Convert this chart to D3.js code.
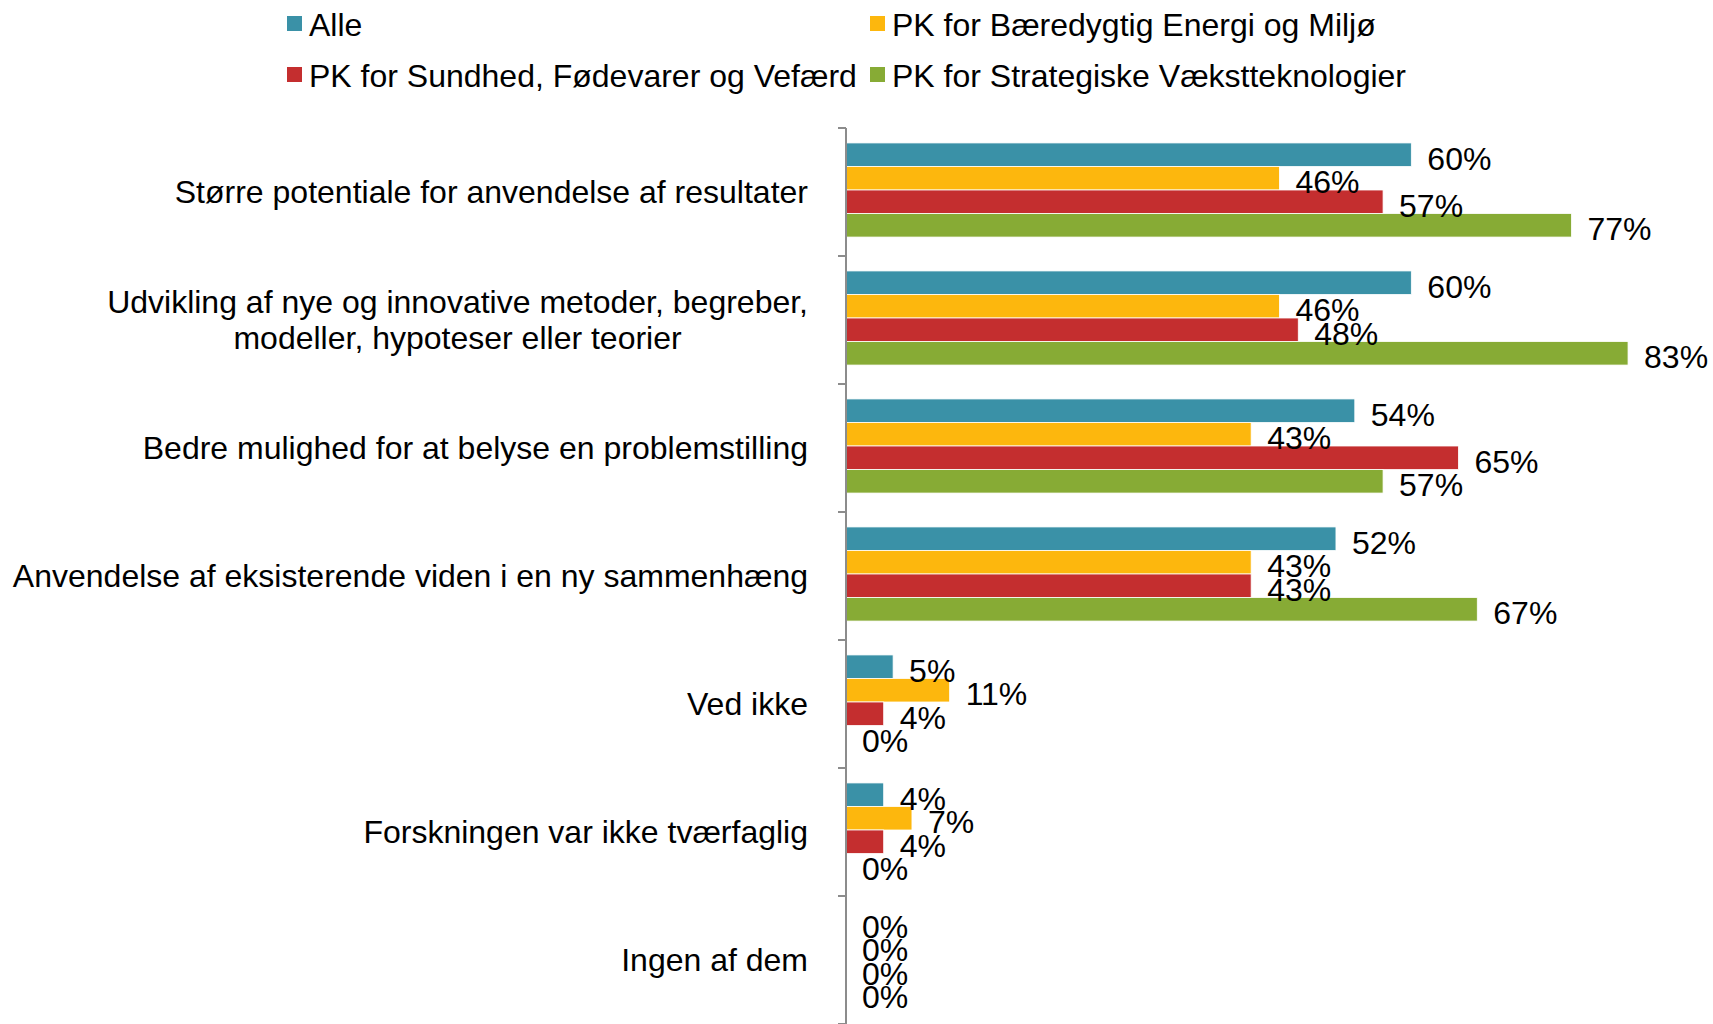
<!DOCTYPE html>
<html>
<head>
<meta charset="utf-8">
<script src="https://cdn.jsdelivr.net/npm/d3@7"></script>
<style>
  html, body { margin: 0; padding: 0; background: #fff; }
  svg { display: block; }
  text { font-family: "Liberation Sans", Arial, Helvetica, sans-serif; fill: #000; }
</style>
</head>
<body>
<svg id="chart" width="1713" height="1024"></svg>
<script>
const categories = [
  "Større potentiale for anvendelse af resultater",
  "Udvikling af nye og innovative metoder, begreber,|modeller, hypoteser eller teorier",
  "Bedre mulighed for at belyse en problemstilling",
  "Anvendelse af eksisterende viden i en ny sammenhæng",
  "Ved ikke",
  "Forskningen var ikke tværfaglig",
  "Ingen af dem"
];
const seriesNames = [
  "Alle",
  "PK for Bæredygtig Energi og Miljø",
  "PK for Sundhed, Fødevarer og Vefærd",
  "PK for Strategiske Vækstteknologier"
];
const seriesColors = ["#3A91A7", "#FDB70D", "#C42E2F", "#87AB35"];
const alle       = [60, 60, 54, 52, 5, 4, 0];
const energi     = [46, 46, 43, 43, 11, 7, 0];
const sundhed    = [57, 48, 65, 43, 4, 4, 0];
const strategisk = [77, 83, 57, 67, 0, 0, 0];
const seriesValues = [alle, energi, sundhed, strategisk];

const svg = d3.select("#chart");
const axisX = 846, plotTop = 128, plotBottom = 1024;
const fontSize = "32px";

const x = d3.scaleLinear().domain([0, 90]).range([axisX, axisX + 848]);
const y0 = d3.scaleBand().domain(d3.range(categories.length)).range([plotTop, plotBottom]).padding(0);
const y1 = d3.scaleBand().domain(d3.range(seriesNames.length))
  .range([-2, y0.bandwidth() - 2]).paddingInner(0).paddingOuter(0.72);

// bars
const groups = svg.append("g").selectAll("g")
  .data(categories).join("g")
  .attr("transform", (d, i) => `translate(0,${y0(i)})`);

groups.each(function(cat, ci) {
  const g = d3.select(this);
  seriesValues.forEach((vals, si) => {
    const v = vals[ci];
    if (v > 0) {
      g.append("rect")
        .attr("x", x(0))
        .attr("y", y1(si))
        .attr("width", x(v) - x(0))
        .attr("height", y1.bandwidth())
        .attr("fill", seriesColors[si])
        .attr("stroke", "#ffffff")
        .attr("stroke-width", 0.8);
    }
  });
  seriesValues.forEach((vals, si) => {
    const v = vals[ci];
    g.append("text")
      .attr("x", x(v) + 16)
      .attr("y", y1(si) + y1.bandwidth() / 2 + 4)
      .attr("dominant-baseline", "central")
      .style("font-size", fontSize)
      .text(v + "%");
  });
});

// axis
const ag = svg.append("g").attr("transform", `translate(${axisX},0)`);
ag.append("line").attr("x1", 0).attr("x2", 0).attr("y1", plotTop).attr("y2", plotBottom)
  .attr("stroke", "#8c8c8c").attr("stroke-width", 2);
const boundaries = d3.range(categories.length + 1).map(i => plotTop + i * y0.step());
ag.selectAll("line.tick").data(boundaries).join("line")
  .attr("class", "tick")
  .attr("x1", -8).attr("x2", 0)
  .attr("y1", d => d).attr("y2", d => d)
  .attr("stroke", "#8c8c8c").attr("stroke-width", 2);

// category labels
const labelRight = 808;
categories.forEach((c, i) => {
  const lines = c.split("|");
  const cy = y0(i) + y0.bandwidth() / 2;
  const lh = 36;
  const t = svg.append("text")
    .style("font-size", fontSize)
    .attr("dominant-baseline", "central");
  lines.forEach((ln, li) => {
    t.append("tspan").text(ln)
      .attr("y", cy + (li - (lines.length - 1) / 2) * lh);
  });
  const widths = t.selectAll("tspan").nodes().map(n => n.getComputedTextLength());
  const maxW = d3.max(widths);
  t.attr("text-anchor", "middle");
  t.selectAll("tspan").attr("x", labelRight - maxW / 2);
});

// legend
const legendPos = [
  {x: 287, y: 23}, {x: 870, y: 23},
  {x: 287, y: 74}, {x: 870, y: 74}
];
seriesNames.forEach((s, i) => {
  const p = legendPos[i];
  svg.append("rect").attr("x", p.x).attr("y", p.y - 7)
    .attr("width", 15).attr("height", 15).attr("fill", seriesColors[i]);
  svg.append("text").attr("x", p.x + 22).attr("y", p.y + 2)
    .attr("dominant-baseline", "central")
    .style("font-size", fontSize).text(s);
});
</script>
</body>
</html>
